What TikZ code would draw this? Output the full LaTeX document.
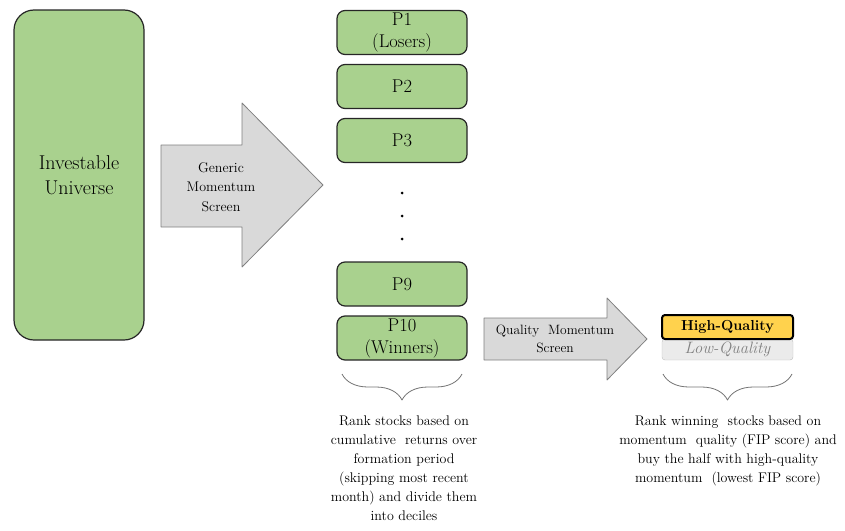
\documentclass[tikz,border=0pt]{standalone}
\usetikzlibrary{positioning,decorations.pathreplacing}
\definecolor{decgreen}{HTML}{A9D18E}
\definecolor{screengray}{HTML}{D9D9D9}
\definecolor{hqgold}{HTML}{FFD24D}
\definecolor{lqgray}{HTML}{EBEBEB}
\begin{document}
\begin{tikzpicture}[x=1pt,y=-1pt, line join=round, font=\fontsize{14}{19}\selectfont,
	decile/.style={draw=black!85, line width=1.2pt, fill=decgreen, rounded corners=8pt,
		minimum width=130pt, minimum height=44pt, inner sep=0pt, align=center,
		font=\fontsize{18.5}{22}\selectfont},
	screen/.style={draw=black!50, line width=0.8pt, fill=screengray},
	bracket/.style={draw=black!55, line width=0.8pt, decorate,
		decoration={brace, mirror, amplitude=26pt}},
	note/.style={anchor=north, align=center, inner sep=0pt}]
	\useasboundingbox (0,0) rectangle (845,530);
	% universe and the ten deciles
	\node[decile, minimum height=330pt, rounded corners=20pt,
		font=\fontsize{20}{25}\selectfont] (univ) at (79,175) {Investable\\Universe};
	\node[decile] (p1) at (402,32.5) {P1\\(Losers)};
	\node[decile] (p2) at (402,86.5) {P2};
	\node[decile] (p3) at (402,140.5) {P3};
	\node[decile] (p9) at (402,284) {P9};
	\node[decile] (p10) at (402,338) {P10\\(Winners)};
	\foreach \y in {193,216,239} \fill (402,\y) circle (1.5pt);
	% block arrows
	\draw[screen] (161,145)--(242,145)--(242,103)--(323,185)--(242,267)--(242,227)--(161,227)--cycle;
	\node[align=center, font=\fontsize{14}{19.5}\selectfont] (gen) at (221,187) {Generic\\Momentum\\Screen};
	\draw[screen] (484,318)--(607,318)--(607,298)--(647,339)--(607,380)--(607,360)--(484,360)--cycle;
	\node[align=center, font=\fontsize{13.5}{18}\selectfont] (qual) at (555,339) {Quality\ \ Momentum\\Screen};
	% winners split in two halves
	\node[draw=black!25, fill=lqgray, rounded corners=3pt, minimum width=131pt, minimum height=21pt,
		inner sep=0pt, text=black!50, font=\fontsize{16.5}{18}\selectfont\itshape] (lq) at (727.5,349.5) {Low-Quality};
	\node[draw=black, line width=2pt, fill=hqgold, rounded corners=3pt, minimum width=131pt, minimum height=24pt,
		inner sep=0pt, font=\fontsize{14.5}{18}\selectfont\bfseries] (hq) at (727.5,327) {High-Quality};
	% braces and notes
	\coordinate (b1) at (342,374); \coordinate (b2) at (462,374);
	\coordinate (b3) at (663,374); \coordinate (b4) at (792,374);
	\draw[bracket] (b1) -- (b2);
	\draw[bracket] (b3) -- (b4);
	\node[note] (rankdec) at (404,416) {Rank stocks based on\\cumulative\ \ returns over\\formation period\\(skipping most recent\\month) and divide them\\into deciles};
	\node[note] (rankwin) at (728,416) {Rank winning\ \ stocks based on\\momentum\ \ quality (FIP score) and\\buy the half with high-quality\\momentum\ \ (lowest FIP score)};
\end{tikzpicture}
\end{document}
